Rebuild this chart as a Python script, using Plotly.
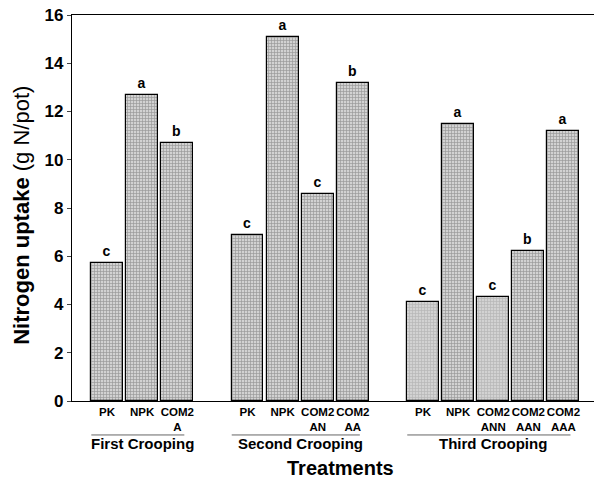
import plotly.graph_objects as go

# Data
groups = ["First Crooping", "Second Crooping", "Third Crooping"]
treatments = [
    ["PK", "NPK", "COM2<br>A"],
    ["PK", "NPK", "COM2<br>AN", "COM2<br>AA"],
    ["PK", "NPK", "COM2<br>ANN", "COM2<br>AAN", "COM2<br>AAA"],
]
values = [
    [5.7, 12.7, 10.7],
    [6.9, 15.1, 8.6, 13.2],
    [4.1, 11.5, 4.3, 6.2, 11.2],
]
letters = [
    ["c", "a", "b"],
    ["c", "a", "c", "b"],
    ["c", "a", "c", "b", "a"],
]
y_ticks = [0, 2, 4, 6, 8, 10, 12, 14, 16]

# Build slot positions (one empty slot between groups)
xs, ys, labs, lets, grp_ranges = [], [], [], [], []
slot = 0
for g, (tr, vals, lt) in enumerate(zip(treatments, values, letters)):
    start = slot
    for t, v, l in zip(tr, vals, lt):
        xs.append(slot); ys.append(v); labs.append(t); lets.append(l)
        slot += 1
    grp_ranges.append((start, slot - 1))
    slot += 1

# pattern shade (lighter stipple for two bars of third cropping)
fg = ["#606060"] * len(xs)
fg[len(treatments[0]) + len(treatments[1])] = "#999999"
fg[len(treatments[0]) + len(treatments[1]) + 2] = "#999999"

fig = go.Figure()
fig.add_trace(go.Bar(
    x=xs, y=ys, width=0.91,
    marker=dict(color="#d2d2d2",
                line=dict(color="black", width=1.2),
                pattern=dict(shape="+", fgcolor=fg, size=3, solidity=0.4)),
    text=["<b>%s</b>" % l for l in lets], textposition="outside",
    textfont=dict(family="Liberation Sans, Arial", size=14, color="black"),
    cliponaxis=False, showlegend=False,
))

fig.update_layout(
    width=596, height=479,
    margin=dict(l=72, r=2, t=15, b=78, autoexpand=False),
    plot_bgcolor="white", paper_bgcolor="white",
    font=dict(family="Liberation Sans, Arial", color="black"),
    bargap=0,
    xaxis=dict(range=[-1, 13.87], tickvals=xs, ticktext=["<b>%s</b>" % t for t in labs],
               tickfont=dict(size=11.5), showline=True, linecolor="black", linewidth=1.2,
               mirror=True, ticks="", showgrid=False, zeroline=False, tickangle=0,
               automargin=False),
    yaxis=dict(range=[0, 16], tickvals=y_ticks, tickfont=dict(size=17, weight="bold"),
               showline=True, linecolor="black", linewidth=1.2, ticks="outside",
               ticklen=4, showgrid=False, zeroline=False, automargin=False,
               ticklabeloverflow="allow"),
)

# group underline and labels
for (a, b), name in zip(grp_ranges, groups):
    fig.add_shape(type="line", xref="x", yref="paper", x0=a - 0.45, x1=b + 0.2,
                  y0=-0.088, y1=-0.088, line=dict(color="#666", width=1))
    fig.add_annotation(x=(a + b) / 2, xref="x", y=-0.111, yref="paper", yanchor="middle",
                       text="<b>%s</b>" % name, showarrow=False, font=dict(size=15))

fig.add_annotation(x=0.515, xref="paper", y=-0.174, yref="paper", yanchor="middle",
                   text="<b>Treatments</b>", showarrow=False, font=dict(size=20))
fig.add_annotation(x=-0.096, xref="paper", y=0.482, yref="paper", textangle=-90,
                   xanchor="center", yanchor="middle",
                   text="<b>Nitrogen uptake</b> (g N/pot)", showarrow=False,
                   font=dict(size=22))

fig.write_html("out.html", config={"displayModeBar": False},
               post_script="document.body.style.margin='0';")
